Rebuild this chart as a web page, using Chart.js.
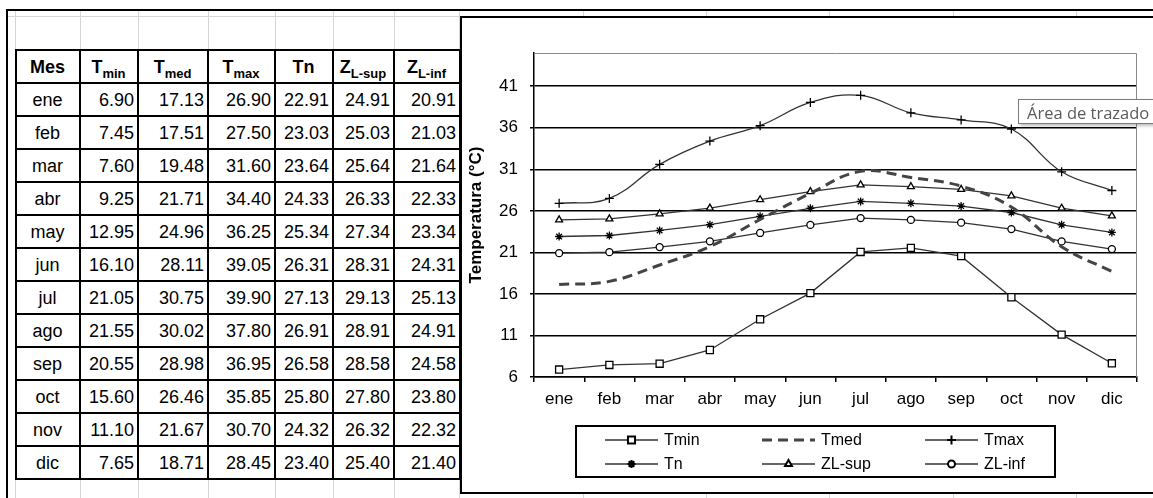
<!DOCTYPE html>
<html lang="es">
<head>
<meta charset="utf-8">
<title>Temperaturas mensuales y zona de confort</title>
<script src="https://cdn.jsdelivr.net/npm/chart.js@4.4.1/dist/chart.umd.min.js"></script>
<style>
  html, body { margin: 0; padding: 0; background: #fff; }
  body {
    position: relative; width: 1153px; height: 498px; overflow: hidden;
    font-family: "Liberation Sans", Arial, sans-serif; color: #000;
  }
  .gh, .gv { position: absolute; background: #d6d6d6; }
  .gh { height: 1px; left: 8px; right: 0; }
  .gv { width: 1px; top: 10px; bottom: 0; }
  .borde { position: absolute; background: #000; }
  #tabla {
    position: absolute; left: 15px; top: 49px;
    border-collapse: collapse; table-layout: fixed; background: #fff;
  }
  #tabla th, #tabla td {
    border: 2px solid #000; height: 31px; padding: 0 3px 0 2px;
    font-size: 18px; line-height: 20px; white-space: nowrap; overflow: hidden;
  }
  #tabla th { font-weight: bold; text-align: center; }
  #tabla th sub { font-size: 13px; line-height: 0; vertical-align: -5px; }
  #tabla td { text-align: right; }
  #tabla td.mes { text-align: center; }
  #marco {
    position: absolute; left: 460px; top: 16px; width: 720px; height: 474px;
    border: 2px solid #000; background: #fff;
  }
  #marco canvas { display: block; }
  #ayuda {
    position: absolute; left: 1018px; top: 99px; width: 150px; height: 25px;
    border: 1px solid #7a7a7a; background: #fff;
    box-shadow: 2px 2px 3px rgba(0,0,0,0.25);
    font-family: "Open Sans", "Noto Sans", sans-serif; font-size: 16.5px;
    line-height: 25px; color: #5a5a5a; padding-left: 8px; box-sizing: border-box;
  }
</style>
</head>
<body>

<div id="hoja"></div>
<table id="tabla"></table>
<div id="marco"><canvas id="grafTemp" width="691" height="474"></canvas></div>
<div id="ayuda">Área de trazado</div>

<script>
const meses = ['ene', 'feb', 'mar', 'abr', 'may', 'jun', 'jul', 'ago', 'sep', 'oct', 'nov', 'dic'];
const tMin  = [6.90, 7.45, 7.60, 9.25, 12.95, 16.10, 21.05, 21.55, 20.55, 15.60, 11.10, 7.65];
const tMed  = [17.13, 17.51, 19.48, 21.71, 24.96, 28.11, 30.75, 30.02, 28.98, 26.46, 21.67, 18.71];
const tMax  = [26.90, 27.50, 31.60, 34.40, 36.25, 39.05, 39.90, 37.80, 36.95, 35.85, 30.70, 28.45];
const tN    = [22.91, 23.03, 23.64, 24.33, 25.34, 26.31, 27.13, 26.91, 26.58, 25.80, 24.32, 23.40];
const zlSup = [24.91, 25.03, 25.64, 26.33, 27.34, 28.31, 29.13, 28.91, 28.58, 27.80, 26.32, 25.40];
const zlInf = [20.91, 21.03, 21.64, 22.33, 23.34, 24.31, 25.13, 24.91, 24.58, 23.80, 22.32, 21.40];
const yTicks = [6, 11, 16, 21, 26, 31, 36, 41];

// cuadricula de la hoja de calculo
const hoja = document.getElementById('hoja');
[16].forEach(y => {
    const d = document.createElement('div');
    d.className = 'gh'; d.style.top = y + 'px'; hoja.appendChild(d);
});
[15, 80, 138, 208, 275, 333, 394, 459, 583, 706, 829, 953, 1076].forEach(x => {
    const d = document.createElement('div');
    d.className = 'gv'; d.style.left = x + 'px'; hoja.appendChild(d);
});
[{left: 6, top: 9, width: 1147, height: 2}, {left: 6, top: 9, width: 2, height: 489}].forEach(b => {
    const d = document.createElement('div');
    d.className = 'borde';
    Object.keys(b).forEach(k => d.style[k] = b[k] + 'px');
    hoja.appendChild(d);
});

// tabla de datos
const anchos = [64, 58, 70, 67, 58, 61, 66];
const cabecera = ['Mes', 'T<sub>min</sub>', 'T<sub>med</sub>', 'T<sub>max</sub>', 'Tn', 'Z<sub>L-sup</sub>', 'Z<sub>L-inf</sub>'];
const tabla = document.getElementById('tabla');
let html = '<colgroup>' + anchos.map(w => `<col style="width:${w}px">`).join('') + '</colgroup>';
html += '<tr>' + cabecera.map(c => `<th>${c}</th>`).join('') + '</tr>';
meses.forEach((m, i) => {
    const fila = [tMin[i], tMed[i], tMax[i], tN[i], zlSup[i], zlInf[i]];
    html += `<tr><td class="mes">${m}</td>` + fila.map(v => `<td>${v.toFixed(2)}</td>`).join('') + '</tr>';
});
tabla.innerHTML = html;

const fuente = { family: '"Liberation Sans", Arial, sans-serif', size: 17 };

// borde gris superior y derecho del area de trazado
const marcoPlot = {
    id: 'marcoPlot',
    beforeDatasetsDraw(chart) {
        const { ctx, chartArea: a } = chart;
        ctx.save();
        ctx.strokeStyle = '#8a8a8a';
        ctx.lineWidth = 1;
        ctx.beginPath();
        ctx.moveTo(a.left, a.top + 0.5);
        ctx.lineTo(a.right - 0.5, a.top + 0.5);
        ctx.lineTo(a.right - 0.5, a.bottom);
        ctx.stroke();
        ctx.restore();
    }
};

// leyenda en dos filas con muestra de linea y marcador
const leyenda = {
    id: 'leyenda',
    afterDraw(chart) {
        const ctx = chart.ctx;
        const caja = { x: 114, y: 408, w: 479, h: 51 };
        const colX = [143, 300, 463];
        const filaY = [422, 446];
        const largo = 53;
        ctx.save();
        ctx.strokeStyle = '#000';
        ctx.lineWidth = 2;
        ctx.strokeRect(caja.x, caja.y, caja.w, caja.h);
        ctx.font = '16px "Liberation Sans", Arial, sans-serif';
        ctx.textBaseline = 'middle';
        ctx.fillStyle = '#000';
        chart.data.datasets.forEach((ds, i) => {
            const x = colX[i % 3];
            const y = filaY[Math.floor(i / 3)];
            ctx.save();
            ctx.strokeStyle = ds.borderColor;
            ctx.lineWidth = ds.borderWidth;
            ctx.setLineDash(ds.borderDash || []);
            ctx.beginPath();
            ctx.moveTo(x, y);
            ctx.lineTo(x + largo, y);
            ctx.stroke();
            ctx.restore();
            if (ds.pointRadius > 0) {
                ctx.save();
                ctx.strokeStyle = ds.pointBorderColor;
                ctx.fillStyle = ds.pointBackgroundColor;
                Chart.helpers.drawPoint(ctx, {
                    pointStyle: ds.pointStyle,
                    radius: ds.pointRadius,
                    borderWidth: ds.pointBorderWidth,
                    rotation: 0
                }, x + largo / 2, y);
                ctx.restore();
            }
            ctx.fillStyle = '#000';
            ctx.fillText(ds.label, x + largo + 6, y + 1);
        });
        ctx.restore();
    }
};

function serie(label, data, pointStyle, radius, extra) {
    return Object.assign({
        label: label,
        data: data,
        borderColor: '#333',
        borderWidth: 1.3,
        tension: 0,
        fill: false,
        pointStyle: pointStyle,
        pointRadius: radius,
        pointBorderColor: '#000',
        pointBackgroundColor: '#fff',
        pointBorderWidth: 1.3
    }, extra || {});
}

const ctx = document.getElementById('grafTemp').getContext('2d');
const grafico = new Chart(ctx, {
    type: 'line',
    data: {
        labels: meses,
        datasets: [
            serie('Tmin', tMin, 'rect', 5),
            serie('Tmed', tMed, 'circle', 0, { borderColor: '#444', borderWidth: 3, borderDash: [10, 6], tension: 0.4 }),
            serie('Tmax', tMax, 'cross', 4.5, { tension: 0.4 }),
            serie('Tn', tN, 'star', 4),
            serie('ZL-sup', zlSup, 'triangle', 4),
            serie('ZL-inf', zlInf, 'circle', 3.5)
        ]
    },
    options: {
        responsive: false,
        animation: false,
        layout: { padding: { top: 35, right: 16, left: 0, bottom: 0 } },
        plugins: {
            legend: { display: false },
            tooltip: { enabled: false }
        },
        scales: {
            x: {
                offset: true,
                grid: { offset: true, drawOnChartArea: false, drawTicks: true, tickLength: 5, color: '#000', lineWidth: 1.5 },
                border: { color: '#000', width: 1.5 },
                ticks: { color: '#000', font: fuente, padding: 7, maxRotation: 0, autoSkip: false },
                afterFit: s => { s.height = 115; }
            },
            y: {
                min: 6,
                max: 45,
                afterBuildTicks: s => { s.ticks = yTicks.map(v => ({ value: v })); },
                grid: { color: '#000', lineWidth: 1.5, tickLength: 4 },
                border: { color: '#000', width: 1.5 },
                ticks: { color: '#000', font: fuente, padding: 12 },
                title: {
                    display: true,
                    text: 'Temperatura (°C)',
                    color: '#000',
                    font: { family: fuente.family, size: 17, weight: 'bold' },
                    padding: { top: 4, bottom: 4 }
                },
                afterFit: s => { s.width = 72; }
            }
        }
    },
    plugins: [marcoPlot, leyenda]
});
</script>
</body>
</html>
